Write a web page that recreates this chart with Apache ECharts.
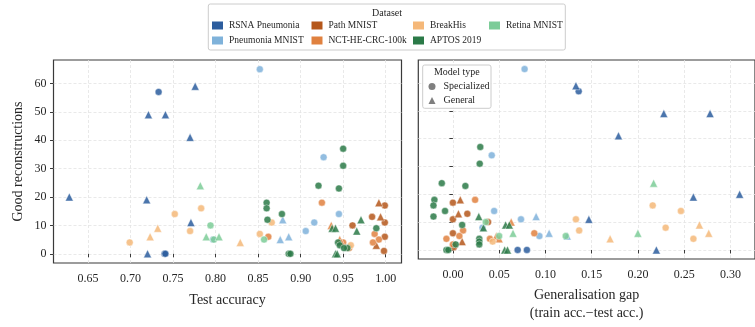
<!DOCTYPE html>
<html>
<head>
<meta charset="utf-8">
<script src="https://cdn.jsdelivr.net/npm/echarts@6/dist/echarts.min.js"></script>
<style>html,body{margin:0;padding:0;background:#fff;}#c{width:755px;height:327px;}</style>
</head>
<body>
<div id="c"></div>
<script>
// Each point: [test accuracy, generalisation gap, good reconstructions]
const rsnaSpecialized = [[0.733, 0.136, 57], [0.740, 0.070, 0], [0.741, 0.080, 0]];
const rsnaGeneral = [[0.628, 0.310, 20], [0.776, 0.133, 59], [0.721, 0.278, 49], [0.741, 0.228, 49], [0.770, 0.179, 41], [0.719, 0.260, 19], [0.771, 0.147, 11], [0.720, 0.220, 0]];
const pneumoniaSpecialized = [[0.852, 0.0775, 65], [0.927, 0.042, 34], [0.945, 0.0446, 14], [0.916, 0.0736, 11], [0.906, 0.032, 8], [0.797, 0.0935, 5]];
const pneumoniaGeneral = [[0.879, 0.090, 12], [0.876, 0.1236, 5], [0.886, 0.104, 6]];
const pathSpecialized = [[0.999, 0.000, 17], [0.984, 0.0156, 13], [0.999, 0.000, 11], [0.961, 0.038, 10], [0.999, 0.000, 6], [0.998, 0.001, 1]];
const pathGeneral = [[0.992, 0.008, 18], [0.994, 0.006, 13], [0.989, 0.010, 3]];
const nctSpecialized = [[0.925, 0.024, 18], [0.862, 0.088, 6], [0.987, 0.011, 7], [0.992, 0.007, 5], [0.985, -0.007, 4], [0.950, 0.040, 4], [0.957, 0.000, 2]];
const nctGeneral = [[0.936, 0.063, 10], [0.946, 0.047, 5], [0.948, 0.050, 4]];
const breakhisSpecialized = [[0.783, 0.216, 16], [0.752, 0.2465, 14], [0.770, 0.230, 8], [0.699, 0.260, 4], [0.866, 0.133, 11], [0.852, 0.1365, 7], [0.959, 0.043, 3]];
const breakhisGeneral = [[0.732, 0.2665, 9], [0.723, 0.2766, 6], [0.829, 0.170, 4]];
const aptosSpecialized = [[0.950, 0.0296, 37], [0.950, 0.029, 31], [0.921, -0.012, 24], [0.945, 0.0135, 23], [0.860, -0.020, 18], [0.860, -0.021, 16], [0.861, -0.021, 12], [0.878, -0.0085, 14], [0.989, 0.010, 9], [0.944, 0.0285, 4], [0.946, 0.0285, 3], [0.955, 0.0285, 2], [0.951, 0.003, 2], [0.886, -0.007, 0], [0.888, -0.005, 0]];
const aptosGeneral = [[0.971, 0.028, 12], [0.966, 0.033, 8], [0.937, 0.057, 9], [0.941, 0.061, 9], [0.941, 0.056, 0], [0.943, 0.059, 0]];
const retinaSpecialized = [[0.794, 0.0355, 10], [0.798, 0.122, 5], [0.857, 0.050, 5]];
const retinaGeneral = [[0.782, 0.217, 24], [0.789, 0.200, 6], [0.804, 0.065, 6]];

const datasetNames = ['RSNA Pneumonia', 'Pneumonia MNIST', 'Path MNIST', 'NCT-HE-CRC-100k', 'BreakHis', 'APTOS 2019', 'Retina MNIST'];
const datasetColors = ['#2c5d9e', '#7fb2da', '#b5571b', '#e0813f', '#f5b879', '#2b7a48', '#7ccc98'];
const specializedData = [rsnaSpecialized, pneumoniaSpecialized, pathSpecialized, nctSpecialized, breakhisSpecialized, aptosSpecialized, retinaSpecialized];
const generalData = [rsnaGeneral, pneumoniaGeneral, pathGeneral, nctGeneral, breakhisGeneral, aptosGeneral, retinaGeneral];

const accTicks = [0.65, 0.70, 0.75, 0.80, 0.85, 0.90, 0.95, 1.00];
const gapTicks = [0.00, 0.05, 0.10, 0.15, 0.20, 0.25, 0.30];
const yTicks = [0, 10, 20, 30, 40, 50, 60];

const serif = "'Liberation Serif', 'DejaVu Serif', serif";
const ink = '#262626';
const spine = '#3a3a3a';

const series = [];
datasetNames.forEach((name, i) => {
  const style = { color: datasetColors[i], opacity: 0.85, borderColor: '#ffffff', borderWidth: 0.5 };
  [[specializedData[i], 'circle', 7], [generalData[i], 'triangle', 8]].forEach(([arr, sym, size]) => {
    series.push({ name, type: 'scatter', xAxisIndex: 0, yAxisIndex: 0, symbol: sym, symbolSize: size,
      itemStyle: style, emphasis: { disabled: true }, data: arr.map(d => [d[0], d[2]]) });
    series.push({ name, type: 'scatter', xAxisIndex: 1, yAxisIndex: 1, symbol: sym, symbolSize: size,
      itemStyle: style, emphasis: { disabled: true }, data: arr.map(d => [d[1], d[2]]) });
  });
});
series.push({ name: 'Specialized', type: 'scatter', symbol: 'circle', xAxisIndex: 0, yAxisIndex: 0, itemStyle: { color: '#7f7f7f' }, data: [] });
series.push({ name: 'General', type: 'scatter', symbol: 'triangle', xAxisIndex: 0, yAxisIndex: 0, itemStyle: { color: '#7f7f7f' }, data: [] });

const splitLine = { show: true, lineStyle: { color: '#e3e3e3', width: 0.8, type: [3, 2] } };
const tick = { show: true, inside: false, length: 3.5, lineStyle: { color: spine, width: 1 } };
const tickLabel = { color: ink, fontFamily: serif, fontSize: 12 };
const nameStyle = { color: ink, fontFamily: serif, fontSize: 14, lineHeight: 18 };

function datasetLegend(left, items) {
  return { show: true, orient: 'vertical', left, top: 20, padding: 0, itemGap: 4, itemWidth: 11, itemHeight: 8,
    icon: 'rect', selectedMode: false, data: items, z: 10,
    itemStyle: { opacity: 1, borderWidth: 0 },
    textStyle: { fontFamily: serif, fontSize: 9.5, color: ink, lineHeight: 11, padding: [0, 0, 0, 1] } };
}

const option = {
  animation: false,
  backgroundColor: '#ffffff',
  grid: [
    { left: 53.5, top: 60, width: 348, height: 203, show: true, borderColor: spine, borderWidth: 1.2, backgroundColor: 'transparent' },
    { left: 418.3, top: 60, width: 348, height: 203, show: true, borderColor: spine, borderWidth: 1.2, backgroundColor: 'transparent' }
  ],
  xAxis: [
    { gridIndex: 0, type: 'value', min: 0.6094, max: 1.0186,
      axisLine: { show: false }, axisTick: Object.assign({ customValues: accTicks }, tick),
      axisLabel: Object.assign({ customValues: accTicks, margin: 10, formatter: v => v.toFixed(2) }, tickLabel),
      splitLine, name: 'Test accuracy', nameLocation: 'middle', nameGap: 28, nameTextStyle: nameStyle },
    { gridIndex: 1, type: 'value', min: -0.0374, max: 0.3266,
      axisLine: { show: false }, axisTick: Object.assign({ customValues: gapTicks }, tick),
      axisLabel: Object.assign({ customValues: gapTicks, margin: 10, formatter: v => v.toFixed(2) }, tickLabel),
      splitLine, name: 'Generalisation gap\n(train acc.\u2212test acc.)', nameLocation: 'middle', nameGap: 27, nameTextStyle: nameStyle }
  ],
  yAxis: [
    { gridIndex: 0, type: 'value', min: -3.25, max: 68.25,
      axisLine: { show: false }, axisTick: Object.assign({ customValues: yTicks }, tick),
      axisLabel: Object.assign({ customValues: yTicks, margin: 7 }, tickLabel),
      splitLine, name: 'Good reconstructions', nameLocation: 'middle', nameGap: 26, nameTextStyle: nameStyle },
    { gridIndex: 1, type: 'value', min: -3.25, max: 68.25,
      axisLine: { show: false }, axisTick: Object.assign({ customValues: yTicks }, tick),
      axisLabel: { show: false, customValues: yTicks }, splitLine }
  ],
  legend: [
    datasetLegend(212, ['RSNA Pneumonia', 'Pneumonia MNIST']),
    datasetLegend(311.5, ['Path MNIST', 'NCT-HE-CRC-100k']),
    datasetLegend(413, ['BreakHis', 'APTOS 2019']),
    datasetLegend(489, ['Retina MNIST']),
    { show: true, orient: 'vertical', left: 428.5, top: 81, padding: 0, itemGap: 3, itemWidth: 7, itemHeight: 7,
      selectedMode: false, data: ['Specialized', 'General'], z: 10,
      itemStyle: { opacity: 1, borderWidth: 0 },
      textStyle: { fontFamily: serif, fontSize: 10, color: ink, lineHeight: 11, padding: [0, 0, 0, 3] } }
  ],
  graphic: [
    { type: 'rect', z: 1, shape: { x: 208.3, y: 4, width: 357, height: 46, r: 2 },
      style: { fill: '#ffffff', stroke: '#cccccc', lineWidth: 1 } },
    { type: 'text', z: 5, x: 387, y: 13, style: { text: 'Dataset', fontFamily: serif, fontSize: 10, fill: ink, align: 'center', verticalAlign: 'middle' } },
    { type: 'rect', z: 1, shape: { x: 422.7, y: 65, width: 68.3, height: 43.3, r: 2 },
      style: { fill: 'rgba(255,255,255,0.85)', stroke: '#cccccc', lineWidth: 1 } },
    { type: 'text', z: 5, x: 456.8, y: 72.5, style: { text: 'Model type', fontFamily: serif, fontSize: 10, fill: ink, align: 'center', verticalAlign: 'middle' } }
  ],
  series
};

const chart = echarts.init(document.getElementById('c'), null, { renderer: 'canvas' });
chart.setOption(option);
</script>
</body>
</html>
